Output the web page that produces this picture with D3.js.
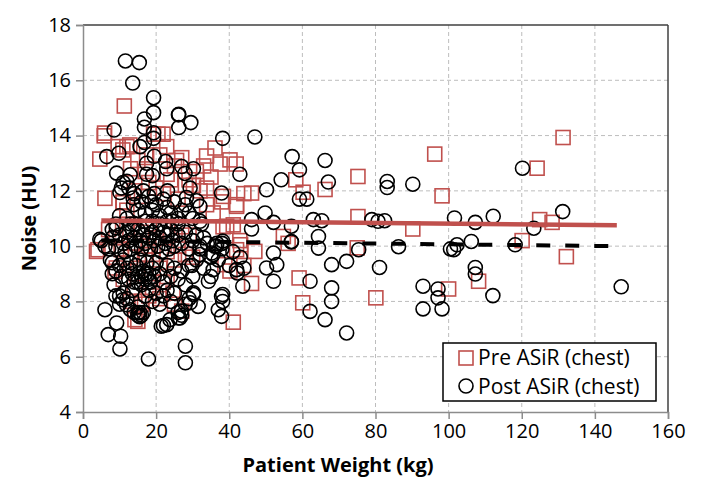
<!DOCTYPE html>
<html><head><meta charset="utf-8">
<script src="https://cdn.jsdelivr.net/npm/d3@7"></script>
<style>
html,body{margin:0;padding:0;background:#fff;}
svg{display:block;}
text{font-family:"Open Sans","Noto Sans",sans-serif;}
</style></head>
<body>
<svg id="chart" width="704" height="494"></svg>
<script>
// ---------- data ----------
const xTicks = [0,20,40,60,80,100,120,140,160];
const yTicks = [4,6,8,10,12,14,16,18];
const seriesNames = ["Pre ASiR (chest)", "Post ASiR (chest)"];
const xTitle = "Patient Weight (kg)";
const yTitle = "Noise (HU)";

// Pre ASiR (chest): [weight kg, noise HU]
const prePoints = [
[11.3,15.07],[5.8,13.99],[4.6,13.15],[9.6,13.6],[12.0,13.6],[19.3,14.05],[20.5,14.05],[21.9,14.05],[22.9,13.6],[17.4,13.3],
[25.6,13.1],[33.8,13.26],[36.1,13.55],[37.5,12.97],[40.2,13.12],[41.9,12.97],[6.0,11.73],[11.0,11.6],[32.0,12.0],[30.2,12.2],
[38.4,11.8],[42.0,11.44],[46.1,11.92],[35.6,11.2],[39.3,10.72],[58.2,12.4],[60.2,11.95],[66.2,12.05],[54.8,10.35],[42.9,10.2],
[75.2,12.52],[96.2,13.33],[131.3,13.93],[124.2,12.82],[98.2,11.82],[75.2,11.07],[90.2,10.62],[124.9,10.96],[128.3,10.86],[120.1,10.2],
[132.2,9.62],[75.0,9.94],[80.1,8.13],[100.0,8.45],[108.2,8.73],[3.7,9.81],[8.75,9.09],[14.2,7.34],[13.0,8.0],[16.1,8.0],
[27.0,7.65],[24.6,8.3],[21.9,8.7],[38.8,9.33],[47.0,9.81],[43.1,10.05],[46.1,8.65],[41.1,7.25],[59.1,8.85],[60.1,7.95],
[56.1,10.1],[10.9,11.57],[4.1,9.87],[10.5,9.87],[9.1,9.21],[17.3,9.69],[33.8,12.1],[37.9,11.6],[42.0,11.5],[41.1,10.77],
[33.8,11.5],[44.0,11.9],[38.3,10.7],[42.0,9.87],[44.0,9.3],[40.2,9.1],[15.0,7.28],[10.9,13.48],[12.8,13.66],[5.9,14.09],
[7,10.6],[9,10.3],[10.5,9.9],[12,10.6],[13,9.6],[14,10.1],[15,9.2],[16,10.5],[17,9.7],[18,10.0],
[19,9.5],[20,10.3],[21,9.2],[22,10.6],[23,9.8],[24,10.4],[25,9.5],[26,10.0],[27,10.7],[28,9.7],
[29,10.4],[30,9.6],[12,11.3],[14,12.0],[16,11.8],[18,12.3],[20,12.1],[22,11.9],[24,12.4],[26,11.7],
[28,12.2],[19,8.5],[21,8.1],[23,8.9],[14,8.5],[16,7.9],[18,8.2],[25,7.9],[11,8.8],[13,12.8],
[15,13.1],[17,12.7],[21,13.3],[23,12.6],[25,12.9],[27,13.2],[29,12.4],[31,12.7],[33,12.9],[35,12.5]
];

// Post ASiR (chest): [weight kg, noise HU]
const postPoints = [
[11.6,16.7],[15.4,16.64],[13.6,15.9],[19.3,15.37],[19.3,14.83],[16.8,14.6],[26.2,14.77],[29.5,14.47],[26.2,14.29],[8.5,14.2],
[16.8,14.3],[19.3,14.1],[19.3,13.9],[15.6,13.6],[16.8,13.75],[38.2,13.9],[47.0,13.95],[6.5,13.24],[9.8,13.36],[17.4,13.0],
[19.5,13.25],[22.6,13.06],[9.2,12.64],[12.9,12.58],[12.0,12.35],[17.4,12.6],[19.0,12.55],[22.9,12.8],[27.0,12.88],[30.2,12.8],
[27.9,12.63],[42.9,12.6],[10.1,11.94],[16.5,12.0],[19.5,11.9],[23.1,12.0],[29.3,12.1],[28.3,11.76],[31.1,11.64],[32.0,11.44],
[13.8,11.5],[18.8,11.6],[37.9,11.92],[50.2,12.04],[54.2,12.4],[57.2,13.24],[59.2,12.76],[59.2,11.7],[61.2,11.7],[66.2,13.1],
[67.1,12.32],[49.8,11.2],[52.1,10.86],[46.1,10.96],[46.1,10.62],[32.4,10.8],[24.4,10.9],[14.0,10.8],[57.0,10.72],[57.0,10.17],
[63.0,10.96],[65.3,10.92],[64.4,10.35],[4.6,10.25],[38.2,10.18],
[120.2,12.82],[83.2,12.34],[83.2,12.12],[90.2,12.24],[79.0,10.96],[80.7,10.9],[82.5,10.92],[101.6,11.02],[107.3,10.86],[112.2,11.08],
[131.2,11.25],[123.3,10.65],[86.3,9.98],[102.3,10.05],[106.2,10.17],[118.2,10.05],[100.5,9.9],[75.4,9.87],[81.1,9.23],[101.4,9.87],
[107.3,9.23],[107.3,8.99],[93.0,8.55],[97.1,8.45],[97.1,8.13],[93.0,7.73],[98.2,7.73],[112.1,8.21],[147.2,8.53],[72.1,6.86],[72.1,9.45],
[6.0,7.7],[6.9,6.8],[10.3,6.74],[9.2,7.22],[10.1,6.28],[17.9,5.92],[28.0,6.38],[28.0,5.78],[22.0,7.13],[23.8,7.34],
[26.5,7.4],[26.9,7.65],[29.3,7.95],[31.5,7.82],[30.2,8.31],[34.3,8.73],[37.0,7.7],[37.9,7.46],[38.2,8.0],[38.2,8.25],
[35.6,9.7],[36.5,10.0],[32.0,9.7],[29.8,9.3],[42.2,9.03],[43.7,8.55],[52.1,9.75],[53.0,9.33],[50.2,9.21],[52.1,8.73],
[62.1,8.73],[62.1,7.64],[66.2,7.34],[68.0,9.33],[68.0,8.49],[68.0,8.0],[64.4,9.93],[57.0,10.15],
[32,10.9],[36.6,10.1],[38,10.1],[35.2,9.75],[42,9.15],[35.6,9.15],[15,7.58],[15.5,7.45],[10.9,8.06],[10,8.2],
[11.9,7.88],[21.4,7.1],[37.9,8.18],[30.2,8.25],[22.9,7.16],[26.1,7.4],[26.1,14.75],[5,10.2],[9.1,10.66],[10.5,12.1],[13.7,11.74],
[11,12.3],[12.5,12.1],[14,11.9],[15,11.3],[16,11.6],[17,11.2],[18,11.8],[19,11.3],[20,11.5],[21,11.1],
[22,11.7],[23,11.4],[24,11.2],[25,11.6],[26,11.0],[27,11.3],[28,11.5],[29,11.2],[30,11.0],[12,11.0],
[13,10.8],[10,11.1],[9,10.8],[8,10.6],
[8,10.3],[9,10.0],[10,10.4],[11,10.1],[11.5,9.8],[12,10.5],[12.5,10.2],[13,9.9],[13.5,10.6],[14,10.3],
[14.5,10.0],[15,10.6],[15.5,10.2],[16,9.9],[16.5,10.4],[17,10.1],[17.5,10.7],[18,10.3],[18.5,9.9],[19,10.5],
[19.5,10.2],[20,10.6],[20.5,10.0],[21,10.3],[21.5,9.8],[22,10.5],[22.5,10.1],[23,10.4],[23.5,9.9],[24,10.6],
[24.5,10.2],[25,10.0],[26,10.4],[27,10.1],[28,10.5],[29,9.9],[30,10.2],[31,10.4],[32,10.0],[19,10.9],
[21,10.8],[23,10.9],[17,10.9],[26,10.8],
[8,9.4],[9,9.1],[10,9.3],[10.5,8.9],[11,9.5],[12,9.2],[12.5,8.8],[13,9.4],[13.5,9.0],[14,8.7],
[14.5,9.3],[15,8.9],[15.5,9.5],[16,8.6],[16.5,9.1],[17,8.8],[17.5,9.4],[18,9.0],[18.5,8.7],[19,9.2],
[19.5,8.9],[20,9.4],[21,9.0],[22,8.7],[23,9.3],[24,8.9],[25,9.2],[26,8.8],[27,9.1],[28,8.6],
[29,9.3],[30,8.9],[16,8.9],[17,9.0],[15,8.7],[18,8.8],
[9,8.2],[10,7.9],[11,8.3],[12,8.1],[13,7.7],[13.5,8.4],[14,7.6],[15,7.5],[15.5,7.6],[16,7.5],
[16.5,7.6],[15,7.8],[17,8.2],[18,8.4],[19,8.0],[20,8.3],[21,7.9],[22,8.2],[23,8.4],[24,8.0],
[25,8.3],[26,7.6],[27,7.5],[28,7.9],[29,8.1],
[6,10.0],[7,9.9],[7.5,9.5],[8,9.0],[8.5,8.6],
[32,9.9],[33,10.3],[34,10.1],[35,9.6],[36,10.0],[37,9.5],[38,9.9],[40,9.3],[41,9.8],[43,9.6],
[44,9.2],[31,9.5],[33,9.2],[35,8.9]
];

// linear trend lines: [weight, noise] endpoints
const preTrend = [[5,10.93],[146,10.76]];
const postTrend = [[5,10.2],[146,10.0]];

// ---------- drawing ----------
const svg = d3.select("#chart");
const red = "#c0504d";
const x = d3.scaleLinear().domain([0,160]).range([83,668]);
const y = d3.scaleLinear().domain([4,18]).range([412,25]);

// gridlines
const grid = svg.append("g");
grid.selectAll("line.v").data(xTicks.filter(t=>t>0 && t<160)).join("line")
  .attr("x1",d=>x(d)).attr("x2",d=>x(d)).attr("y1",y(18)).attr("y2",y(4))
  .attr("stroke","#bdbdbd").attr("stroke-width",1).attr("stroke-dasharray","4,3");
grid.selectAll("line.h").data(yTicks.filter(t=>t>4 && t<18)).join("line")
  .attr("y1",d=>y(d)).attr("y2",d=>y(d)).attr("x1",x(0)).attr("x2",x(160))
  .attr("stroke","#bdbdbd").attr("stroke-width",1).attr("stroke-dasharray","4,3");

// frame top/right
svg.append("line").attr("x1",x(0)).attr("x2",x(160)).attr("y1",y(18)).attr("y2",y(18))
  .attr("stroke","#404040").attr("stroke-width",1.5);
svg.append("line").attr("x1",x(160)).attr("x2",x(160)).attr("y1",y(18)).attr("y2",y(4))
  .attr("stroke","#404040").attr("stroke-width",1.5);

// axes
const xAxis = svg.append("g").attr("transform",`translate(0,${y(4)})`)
  .call(d3.axisBottom(x).tickValues(xTicks).tickSize(7).tickPadding(5).tickFormat(d3.format("d")));
const yAxis = svg.append("g").attr("transform",`translate(${x(0)},0)`)
  .call(d3.axisLeft(y).tickValues(yTicks).tickSize(7).tickPadding(5).tickFormat(d3.format("d")));
[xAxis,yAxis].forEach(a=>{
  a.select(".domain").attr("stroke","#8c8c8c").attr("stroke-width",1.5);
  a.selectAll(".tick line").attr("stroke","#8c8c8c").attr("stroke-width",1.5);
  a.selectAll(".tick text").attr("font-family","'Open Sans','Noto Sans',sans-serif")
    .attr("font-size",20).attr("fill","#000");
});

// markers
const sq = 14;
svg.append("g").selectAll("rect").data(prePoints).join("rect")
  .attr("x",d=>x(d[0])-sq/2).attr("y",d=>y(d[1])-sq/2).attr("width",sq).attr("height",sq)
  .attr("fill","none").attr("stroke",red).attr("stroke-width",1.6);
svg.append("g").selectAll("circle").data(postPoints).join("circle")
  .attr("cx",d=>x(d[0])).attr("cy",d=>y(d[1])).attr("r",7)
  .attr("fill","none").attr("stroke","#000").attr("stroke-width",1.6);

// trend lines
const line = d3.line().x(d=>x(d[0])).y(d=>y(d[1]));
svg.append("path").datum(preTrend).attr("d",line).attr("stroke",red).attr("stroke-width",4.5).attr("fill","none");
svg.append("path").datum(postTrend).attr("d",line).attr("stroke","#000").attr("stroke-width",4)
  .attr("stroke-dasharray","14,15").attr("fill","none");

// axis titles
svg.append("text").attr("x",338).attr("y",472).attr("text-anchor","middle")
  .attr("font-size",20).attr("font-weight","bold").attr("fill","#000").text(xTitle);
svg.append("text").attr("transform",`translate(36,${(y(4)+y(18))/2}) rotate(-90)`).attr("text-anchor","middle")
  .attr("font-size",20).attr("font-weight","bold").attr("fill","#000").text(yTitle);

// legend
const lg = svg.append("g");
lg.append("rect").attr("x",443).attr("y",343).attr("width",213).attr("height",58)
  .attr("fill","#fff").attr("stroke","#000").attr("stroke-width",1.5);
lg.append("rect").attr("x",466-7).attr("y",358-7).attr("width",14).attr("height",14)
  .attr("fill","none").attr("stroke",red).attr("stroke-width",1.6);
lg.append("circle").attr("cx",466).attr("cy",386).attr("r",7)
  .attr("fill","none").attr("stroke","#000").attr("stroke-width",1.6);
lg.append("text").attr("x",478).attr("y",365).attr("font-size",21).attr("fill","#000").text(seriesNames[0]);
lg.append("text").attr("x",478).attr("y",394).attr("font-size",21).attr("fill","#000").text(seriesNames[1]);
</script>
</body></html>
